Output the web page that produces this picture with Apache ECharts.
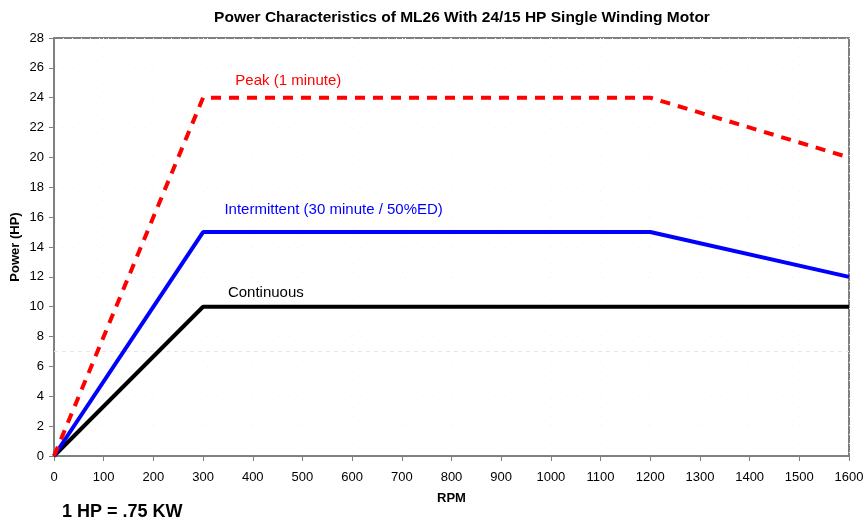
<!DOCTYPE html>
<html>
<head>
<meta charset="utf-8">
<script src="https://cdn.jsdelivr.net/npm/echarts@6/dist/echarts.min.js"></script>
<style>
html, body { margin: 0; padding: 0; background: #fff; }
#chart { width: 865px; height: 526px; }
</style>
</head>
<body>
<div id="chart"></div>
<script>
// curve points [rpm, hp]
let peak = [[0, 0], [300, 24], [1200, 24], [1600, 20]];
let intermittent = [[0, 0], [300, 15], [1200, 15], [1600, 12]];
let continuous = [[0, 0], [300, 10], [1600, 10]];

let seriesNames = ['Peak (1 minute)', 'Intermittent (30 minute / 50%ED)', 'Continuous'];
// where each name is written, [rpm, hp]
let labelAt = [[365, 25.1], [343, 16.5], [350, 10.9]];
// faint dashed reference line across the plot
let refLine = [[0, 7], [1600, 7]];

let fontName = '"Liberation Sans", Arial, sans-serif';

function nameMark(i, color) {
    return {
        symbol: 'circle',
        symbolSize: 0,
        silent: true,
        data: [{
            coord: labelAt[i],
            label: {
                show: true,
                formatter: seriesNames[i],
                position: 'right',
                distance: 0,
                color: color,
                fontSize: 15,
                fontFamily: fontName
            }
        }]
    };
}

function getOption() {
    let axisLine = { show: true, lineStyle: { color: '#808080', width: 2 } };
    let split = { show: true, lineStyle: { color: '#f2f2f2', type: [1, 8], width: 1 } };
    let tick = { show: true, length: 5, lineStyle: { color: '#808080', width: 1 } };
    let tickText = { fontSize: 13, color: '#000', fontFamily: fontName };
    let nameText = { fontSize: 13, fontWeight: 'bold', color: '#000', fontFamily: fontName };
    return {
        animation: false,
        title: {
            text: 'Power Characteristics of ML26 With 24/15 HP Single Winding Motor',
            left: 457,
            textAlign: 'center',
            top: 5,
            textStyle: { fontSize: 15.5, fontWeight: 'bold', color: '#000', fontFamily: fontName }
        },
        graphic: [{
            type: 'text',
            left: 62,
            top: 503,
            style: { text: '1 HP = .75 KW', fontSize: 18, fontWeight: 'bold', fill: '#000', fontFamily: fontName }
        }],
        grid: {
            left: 54, right: 16, top: 38, bottom: 70,
            containLabel: false, outerBoundsMode: 'none',
            show: true, borderColor: '#808080', borderWidth: 2
        },
        xAxis: {
            type: 'value',
            min: 0, max: 1600, interval: 100,
            name: 'RPM', nameLocation: 'middle', nameGap: 36,
            nameMoveOverlap: false,
            nameTextStyle: nameText,
            axisLine: axisLine,
            axisTick: tick,
            axisLabel: Object.assign({ margin: 15, formatter: (v) => String(v) }, tickText),
            splitLine: split
        },
        yAxis: {
            type: 'value',
            min: 0, max: 28, interval: 2,
            name: 'Power (HP)', nameLocation: 'middle', nameGap: 32,
            nameMoveOverlap: false,
            nameTextStyle: nameText,
            axisLine: axisLine,
            axisTick: tick,
            axisLabel: Object.assign({ margin: 10 }, tickText),
            splitLine: split
        },
        series: [
            {
                name: 'ref', type: 'line', data: refLine, symbol: 'none', silent: true,
                lineStyle: { color: '#e6e6e6', type: [4, 4], width: 1 },
                z: 0
            },
            {
                name: seriesNames[0], type: 'line', data: peak, symbol: 'none',
                lineStyle: { color: '#ff0000', width: 4, type: [10, 8] },
                markPoint: nameMark(0, '#ff0000'),
                z: 3
            },
            {
                name: seriesNames[1], type: 'line', data: intermittent, symbol: 'none',
                lineStyle: { color: '#0000ff', width: 4 },
                markPoint: nameMark(1, '#0000ff'),
                z: 2
            },
            {
                name: seriesNames[2], type: 'line', data: continuous, symbol: 'none',
                lineStyle: { color: '#000000', width: 4 },
                markPoint: nameMark(2, '#000000'),
                z: 1
            }
        ]
    };
}

let myChart = echarts.init(document.getElementById('chart'));
myChart.setOption(getOption());
</script>
</body>
</html>
